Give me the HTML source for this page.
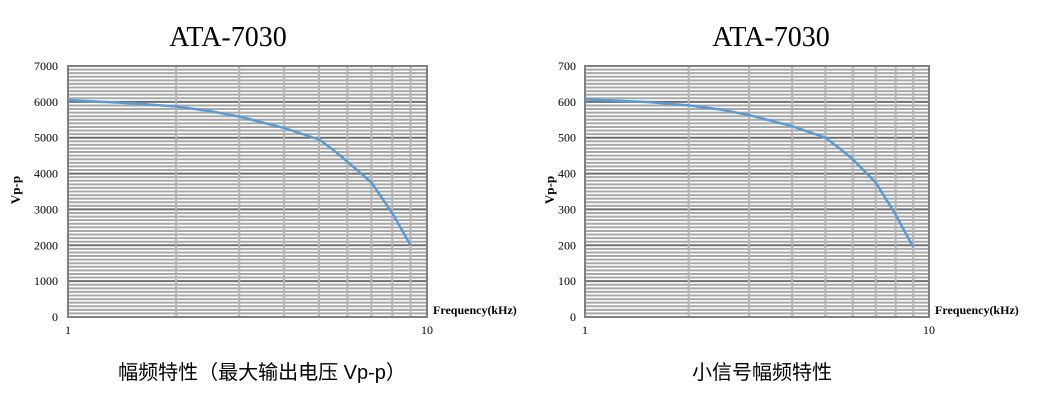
<!DOCTYPE html><html><head><meta charset="utf-8"><style>
body{margin:0;width:1054px;height:405px;background:#fff;overflow:hidden}
svg text{font-family:"Liberation Serif",serif}
</style></head><body>
<svg id="s" width="1054" height="405" xmlns="http://www.w3.org/2000/svg"></svg>
<script>
const s=document.getElementById('s');let h='';
function chart(x0,x1,max,ylx,tx,pts,cap,capx,vpx){
 const y0=66,y1=317,H=y1-y0,W=x1-x0;
 h+=`<rect x="${x0}" y="${y0}" width="${W}" height="${H}" fill="#fff"/>`;
 for(let i=0;i<=70;i++){const y=y1-H*i/70;if(i%10)h+=`<line x1="${x0}" x2="${x1}" y1="${y}" y2="${y}" stroke="#a8a8a8" stroke-width="2"/>`;}
 for(let i=0;i<=7;i++){const y=y1-H*i/7;h+=`<line x1="${x0}" x2="${x1}" y1="${y}" y2="${y}" stroke="#6e6e6e" stroke-width="2"/>`;
  h+=`<text x="${ylx}" y="${y+4}" font-size="12" text-anchor="end">${max*i/7}</text>`;}
 for(let k=2;k<=9;k++){const x=x0+W*Math.log10(k);h+=`<line x1="${x}" x2="${x}" y1="${y0}" y2="${y1}" stroke="#b4b4b4" stroke-width="2"/>`;}
 h+=`<rect x="${x0}" y="${y0}" width="${W}" height="${H}" fill="none" stroke="#808080" stroke-width="2"/>`;
 let d='';pts.forEach((p,i)=>{const x=x0+W*Math.log10(p[0]),y=y1-H*p[1]/max;d+=(i?'L':'M')+x.toFixed(1)+' '+y.toFixed(1)});
 h+=`<path d="${d}" fill="none" stroke="#5b9bd5" stroke-width="2.5" stroke-linejoin="round"/>`;
 h+=`<text x="${x0}" y="334" font-size="12" text-anchor="middle">1</text><text x="${x1}" y="334" font-size="12" text-anchor="middle">10</text>`;
 h+=`<text x="${x1+6}" y="314" font-size="12" font-weight="bold">Frequency(kHz)</text>`;
 h+=`<text transform="translate(${vpx},190) rotate(-90)" font-size="13" font-weight="bold" text-anchor="middle">Vp-p</text>`;
 h+=`<text x="${tx}" y="46" font-size="28" text-anchor="middle">ATA-7030</text>`;
 h+=`<text x="${capx}" y="379" font-size="20" text-anchor="middle" style="font-family:'Liberation Sans','Noto Sans CJK SC',sans-serif">${cap}</text>`;
}
chart(68,427,7000,58,228,[[1,6050],[1.5,5960],[2,5870],[2.5,5740],[3,5590],[4,5270],[5,4950],[5.5,4650],[6,4330],[7,3750],[8,2900],[9,2000]],'幅频特性（最大输出电压 Vp-p）',262,20);
chart(585,929,700,576,771,[[1,607],[1.5,600],[2,590],[2.5,578],[3,563],[4,532],[5,500],[5.5,470],[6,440],[7,375],[8,285],[9,195]],'小信号幅频特性',762,554);
s.innerHTML=h;
</script></body></html>
